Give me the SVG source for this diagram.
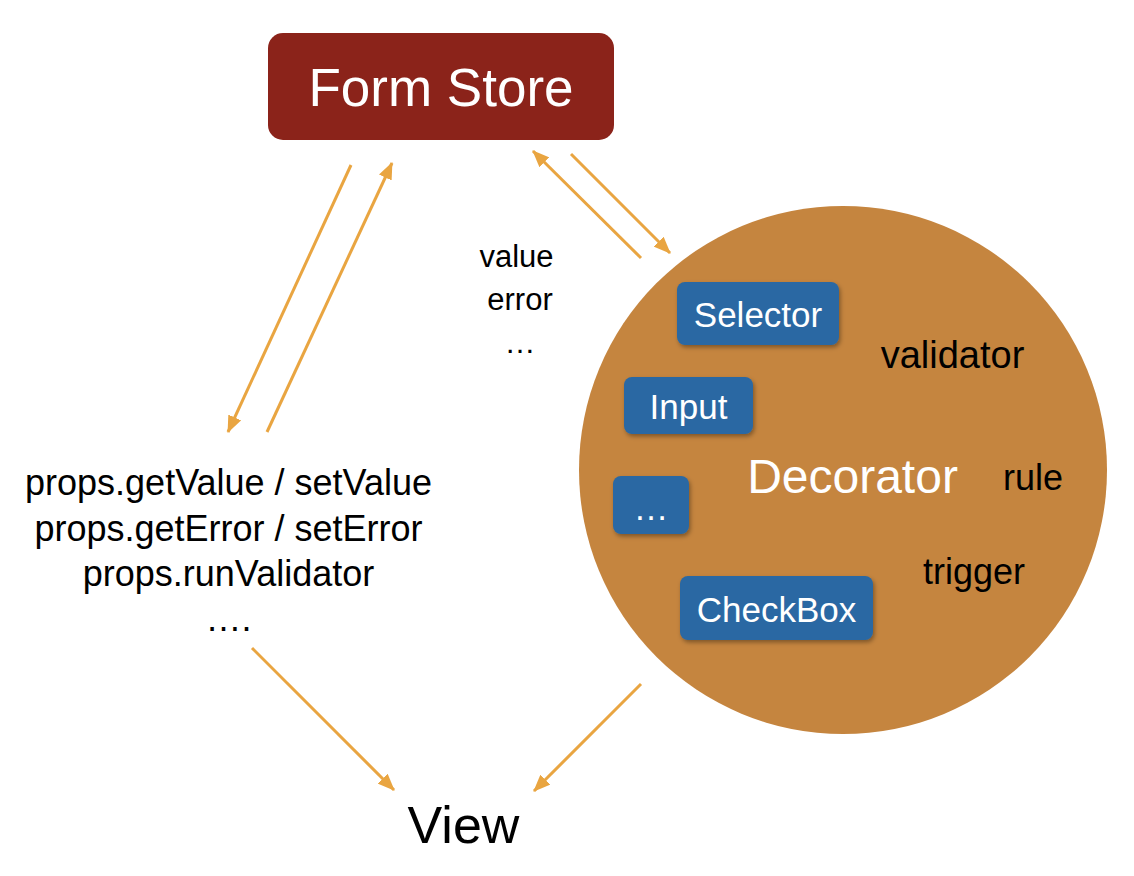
<svg xmlns="http://www.w3.org/2000/svg" width="1134" height="876" viewBox="0 0 1134 876">
  <style>
    text { font-family: "Helvetica Neue", "Liberation Sans", Arial, sans-serif; }
    .store { fill: #8B231A; }
    .storelabel { fill: #ffffff; font-size: 53px; text-anchor: middle; }
    .circle { fill: #C5853F; }
    .deco { fill: #ffffff; font-size: 48px; text-anchor: middle; }
    .chip { fill: #2A68A3; filter: url(#shadow); }
    .chiplabel { fill: #ffffff; font-size: 35px; text-anchor: middle; }
    .label { fill: #000000; font-size: 36px; text-anchor: middle; }
    .big { font-size: 38px; }
    .small { fill: #000000; font-size: 31px; text-anchor: middle; }
    .view { fill: #000000; font-size: 52px; text-anchor: middle; }
    .conn { stroke: #E9A541; stroke-width: 3; fill: none; marker-end: url(#arrow); }
  </style>
  <defs>
    <marker id="arrow" markerUnits="userSpaceOnUse" markerWidth="17" markerHeight="14" refX="16" refY="7" orient="auto">
      <path d="M0,0 L17,7 L0,14 z" fill="#E9A541"/>
    </marker>
    <filter id="shadow" x="-20%" y="-20%" width="140%" height="150%">
      <feDropShadow dx="1.5" dy="2.5" stdDeviation="2" flood-color="#000000" flood-opacity="0.35"/>
    </filter>
  </defs>
  <rect width="1134" height="876" fill="#ffffff"/>

  <g id="form-store">
    <rect class="store" x="268" y="33" width="346" height="107" rx="15" ry="15"/>
    <text class="storelabel" x="441" y="106">Form Store</text>
  </g>

  <g id="decorator">
    <circle class="circle" cx="843" cy="470" r="264"/>
    <text class="deco" x="852.5" y="493">Decorator</text>
    <text class="label big" x="952.5" y="368">validator</text>
    <text class="label" x="1033" y="490">rule</text>
    <text class="label" x="974" y="584">trigger</text>
  </g>

  <g id="selector">
    <rect class="chip" x="677" y="282" width="162" height="63" rx="8" ry="8"/>
    <text class="chiplabel" x="758" y="327">Selector</text>
  </g>
  <g id="input">
    <rect class="chip" x="624" y="377" width="129" height="57" rx="8" ry="8"/>
    <text class="chiplabel" x="688.5" y="419">Input</text>
  </g>
  <g id="more">
    <rect class="chip" x="613" y="476" width="76" height="58" rx="8" ry="8"/>
    <text class="chiplabel" x="651" y="520">…</text>
  </g>
  <g id="checkbox">
    <rect class="chip" x="680" y="576" width="193" height="64" rx="8" ry="8"/>
    <text class="chiplabel" x="776.5" y="622">CheckBox</text>
  </g>

  <g id="props">
    <text class="label" x="228.5" y="495">props.getValue / setValue</text>
    <text class="label" x="228.5" y="540.5">props.getError / setError</text>
    <text class="label" x="228.5" y="586">props.runValidator</text>
    <text class="label" x="228.5" y="631">….</text>
  </g>

  <g id="store-data">
    <text class="small" x="516.5" y="267">value</text>
    <text class="small" x="520" y="310">error</text>
    <text class="small" x="520" y="353">…</text>
  </g>

  <g id="view">
    <text class="view" x="463.5" y="843">View</text>
  </g>

  <g id="connectors">
    <line class="conn" x1="351" y1="165" x2="228" y2="432"/>
    <line class="conn" x1="267" y1="432" x2="392" y2="163"/>
    <line class="conn" x1="641" y1="258" x2="533" y2="151"/>
    <line class="conn" x1="571" y1="154" x2="670" y2="253"/>
    <line class="conn" x1="252" y1="648" x2="394" y2="790"/>
    <line class="conn" x1="641" y1="684" x2="534" y2="791"/>
  </g>
</svg>
